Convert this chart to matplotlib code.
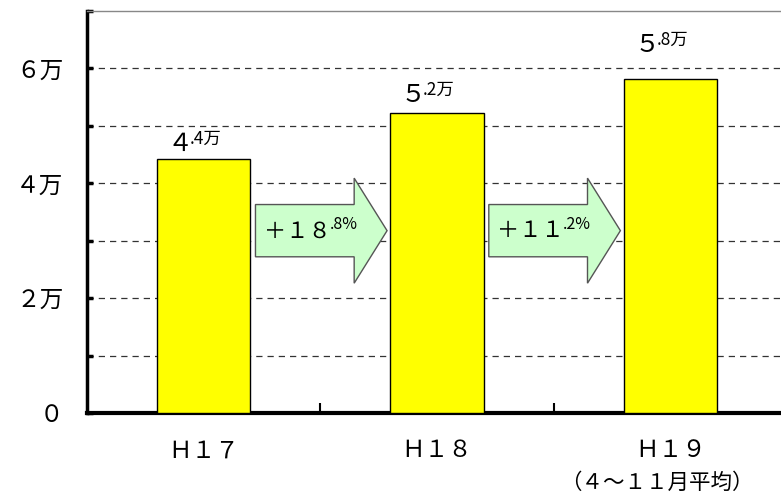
import matplotlib
matplotlib.use('Agg')
import matplotlib.pyplot as plt
from matplotlib.patches import FancyArrow
import numpy as np

plt.rcParams['font.family'] = ['Noto Sans CJK JP', 'DejaVu Sans']

# data
years = ['Ｈ１７', 'Ｈ１８', 'Ｈ１９']
values = [4.42, 5.23, 5.81]          # 万人
label_main = ['４', '５', '５']
label_sub = ['.4万', '.2万', '.8万']
label_dy = [6, 7.5, 20]             # pt above bar top
growth_main = ['＋１８', '＋１１']
growth_sub = ['.8%', '.2%']
ytick_vals = [0, 2, 4, 6]
ytick_labels = ['０', '２万', '４万', '６万']
note = '（４～１１月平均）'

fig = plt.figure(figsize=(7.81, 4.99), dpi=100)
ax = fig.add_axes([87 / 781, 86 / 499, 700 / 781, 402 / 499])

x = np.arange(len(years))
ax.bar(x, values, width=0.40, color='#ffff00', edgecolor='black', linewidth=1.0, zorder=3)

ax.set_xlim(-0.5, 2.5)
ax.set_ylim(0, 7)

# grid
for g in range(1, 7):
    ax.axhline(g, color='#333333', linestyle=(0, (5, 4)), linewidth=0.9, zorder=1)

ax.spines['top'].set_color('#888888')
ax.spines['top'].set_linewidth(1.0)
ax.spines['right'].set_visible(False)
ax.spines['left'].set_linewidth(2.5)
ax.spines['bottom'].set_linewidth(3)

ax.set_yticks(range(0, 8))
ax.set_yticklabels(['' if v not in ytick_vals else ytick_labels[ytick_vals.index(v)] for v in range(0, 8)],
                   fontsize=17)
ax.tick_params(axis='y', direction='in', length=4, width=2.5, pad=17)
ax.set_xticks(x)
ax.set_xticklabels(years, fontsize=17)
ax.tick_params(axis='x', length=0, pad=19)
ax.set_xticks([0.5, 1.5], minor=True)
ax.tick_params(axis='x', which='minor', direction='in', length=7, width=1.5)

ax.text(1.94, -1.22, note, ha='center', va='center', fontsize=15.5)

# value labels
for i, v in enumerate(values):
    ax.annotate(label_main[i], (i, v), xytext=(-8, label_dy[i]), textcoords='offset points',
                ha='right', va='baseline', fontsize=18)
    ax.annotate(label_sub[i], (i, v), xytext=(-10, label_dy[i] + 5), textcoords='offset points',
                ha='left', va='baseline', fontsize=12.5)

# growth arrows
for i in range(2):
    arr = FancyArrow(i + 0.222, 3.175, 0.564, 0, width=0.91, head_width=1.83,
                     head_length=0.141, length_includes_head=True,
                     facecolor='#ccffcc', edgecolor='#555555', linewidth=1.0, zorder=4)
    ax.add_patch(arr)
    ax.text(i + 0.545, 3.17, growth_main[i], ha='right', va='center', fontsize=16, zorder=5)
    ax.text(i + 0.54, 3.28, growth_sub[i], ha='left', va='center', fontsize=11.5, zorder=5)

fig.savefig('out.png', dpi=100)
